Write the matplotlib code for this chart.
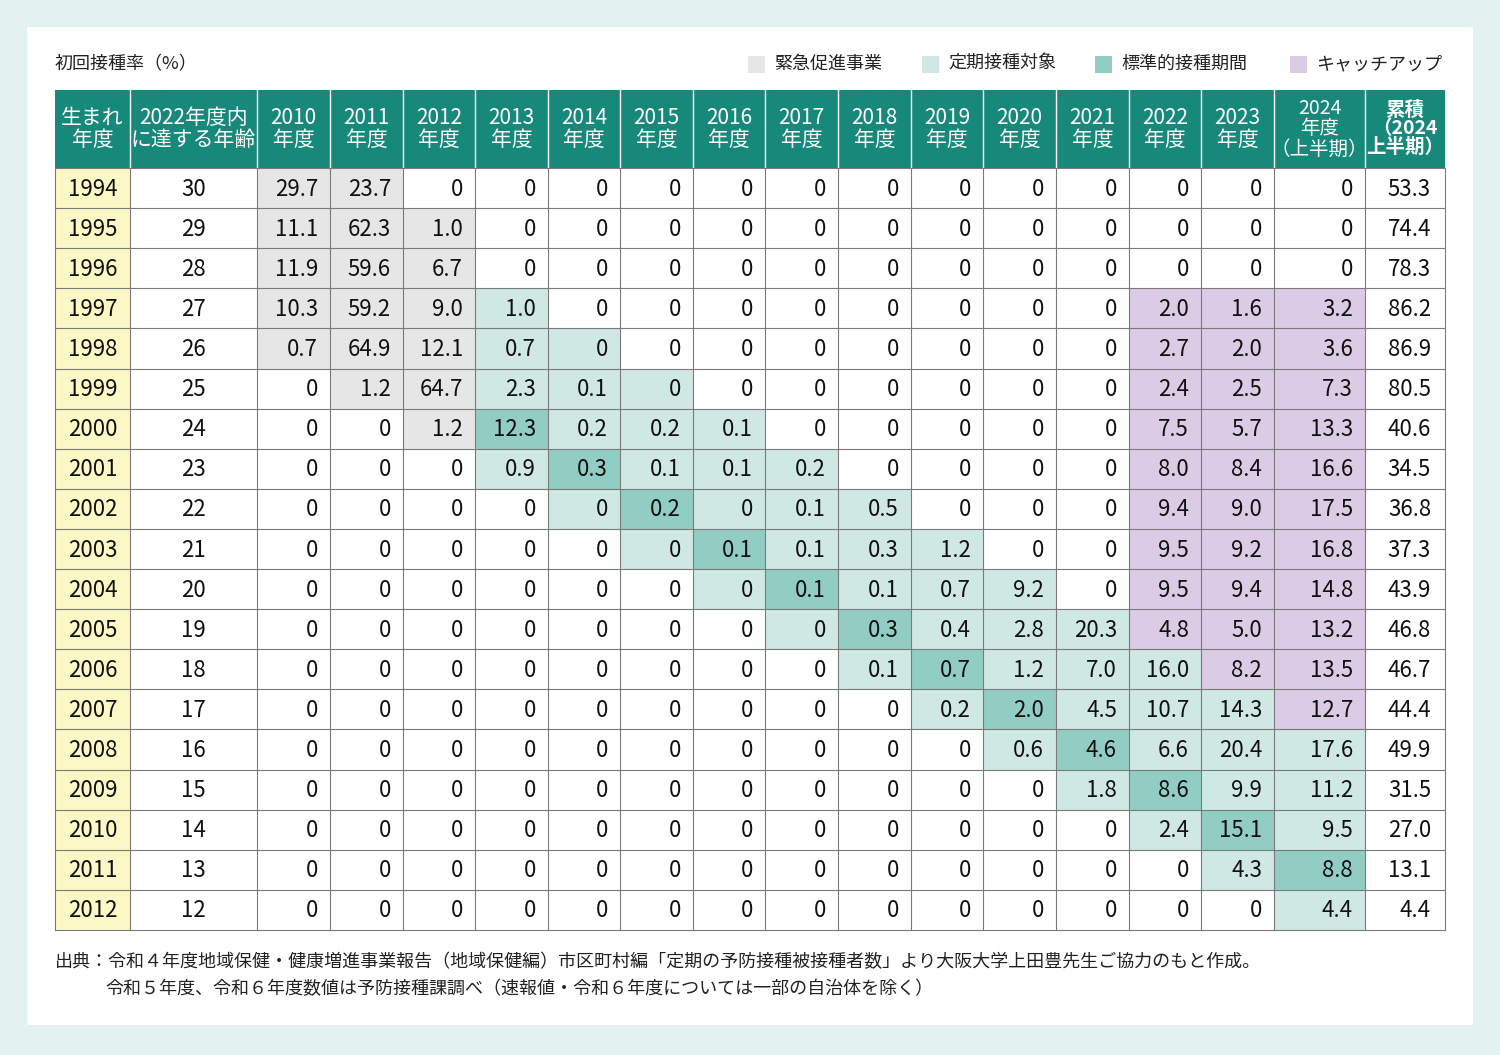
import matplotlib.pyplot as plt
from matplotlib.patches import Rectangle

plt.rcParams["font.family"] = "Noto Sans CJK JP"

birth_years = list(range(1994, 2013))
ages_2022 = [30, 29, 28, 27, 26, 25, 24, 23, 22, 21, 20, 19, 18, 17, 16, 15, 14, 13, 12]
fiscal_years = list(range(2010, 2025))
rates = [
  ["29.7", "23.7", "0", "0", "0", "0", "0", "0", "0", "0", "0", "0", "0", "0", "0"],
  ["11.1", "62.3", "1.0", "0", "0", "0", "0", "0", "0", "0", "0", "0", "0", "0", "0"],
  ["11.9", "59.6", "6.7", "0", "0", "0", "0", "0", "0", "0", "0", "0", "0", "0", "0"],
  ["10.3", "59.2", "9.0", "1.0", "0", "0", "0", "0", "0", "0", "0", "0", "2.0", "1.6", "3.2"],
  ["0.7", "64.9", "12.1", "0.7", "0", "0", "0", "0", "0", "0", "0", "0", "2.7", "2.0", "3.6"],
  ["0", "1.2", "64.7", "2.3", "0.1", "0", "0", "0", "0", "0", "0", "0", "2.4", "2.5", "7.3"],
  ["0", "0", "1.2", "12.3", "0.2", "0.2", "0.1", "0", "0", "0", "0", "0", "7.5", "5.7", "13.3"],
  ["0", "0", "0", "0.9", "0.3", "0.1", "0.1", "0.2", "0", "0", "0", "0", "8.0", "8.4", "16.6"],
  ["0", "0", "0", "0", "0", "0.2", "0", "0.1", "0.5", "0", "0", "0", "9.4", "9.0", "17.5"],
  ["0", "0", "0", "0", "0", "0", "0.1", "0.1", "0.3", "1.2", "0", "0", "9.5", "9.2", "16.8"],
  ["0", "0", "0", "0", "0", "0", "0", "0.1", "0.1", "0.7", "9.2", "0", "9.5", "9.4", "14.8"],
  ["0", "0", "0", "0", "0", "0", "0", "0", "0.3", "0.4", "2.8", "20.3", "4.8", "5.0", "13.2"],
  ["0", "0", "0", "0", "0", "0", "0", "0", "0.1", "0.7", "1.2", "7.0", "16.0", "8.2", "13.5"],
  ["0", "0", "0", "0", "0", "0", "0", "0", "0", "0.2", "2.0", "4.5", "10.7", "14.3", "12.7"],
  ["0", "0", "0", "0", "0", "0", "0", "0", "0", "0", "0.6", "4.6", "6.6", "20.4", "17.6"],
  ["0", "0", "0", "0", "0", "0", "0", "0", "0", "0", "0", "1.8", "8.6", "9.9", "11.2"],
  ["0", "0", "0", "0", "0", "0", "0", "0", "0", "0", "0", "0", "2.4", "15.1", "9.5"],
  ["0", "0", "0", "0", "0", "0", "0", "0", "0", "0", "0", "0", "0", "4.3", "8.8"],
  ["0", "0", "0", "0", "0", "0", "0", "0", "0", "0", "0", "0", "0", "0", "4.4"],
]
cumulative = ["53.3", "74.4", "78.3", "86.2", "86.9", "80.5", "40.6", "34.5", "36.8", "37.3",
              "43.9", "46.8", "46.7", "44.4", "49.9", "31.5", "27.0", "13.1", "4.4"]
header_labels = ["生まれ\n年度", "2022年度内\nに達する年齢"] + [f"{y}\n年度" for y in fiscal_years[:-1]] \
  + ["2024\n年度\n（上半期）", "累積\n（2024\n上半期）"]
legend_labels = ["緊急促進事業", "定期接種対象", "標準的接種期間", "キャッチアップ"]

HEADER_BG = "#17897a"
GRAY = "#e6e6e6"
LIGHT = "#cfe8e4"
DARK = "#92cdc3"
PURPLE = "#dccbe4"
YELLOW = "#fbf8c6"
col_edges = [55, 130, 257, 330, 403, 475, 548, 620, 693, 765, 838, 911, 983, 1056, 1129, 1201, 1274, 1365, 1445]
top, head_bottom, bottom = 90, 168, 930


def cell_color(b, y):
  age = y - b
  if 2010 <= y <= 2012 and 12 <= age <= 17:
    return GRAY
  if age == 13 and y >= 2013:
    return DARK
  if 12 <= age <= 16 and y >= 2013:
    return LIGHT
  if y >= 2022 and 1997 <= b <= 2007:
    return PURPLE
  return "white"


fig = plt.figure(figsize=(15, 10.55), dpi=100)
ax = fig.add_axes([0, 0, 1, 1])
ax.set_xlim(0, 1500)
ax.set_ylim(1055, 0)
ax.axis("off")
fig.patch.set_facecolor("#e3f1ef")
ax.add_patch(Rectangle((27, 27), 1446, 998, facecolor="white", edgecolor="none"))

ax.text(55, 64, "初回接種率（%）", fontsize=13, va="center", ha="left", color="#222")
for x, label, c in zip([756, 930, 1103, 1298], legend_labels, [GRAY, LIGHT, DARK, PURPLE]):
  ax.add_patch(Rectangle((x - 8, 56), 17, 17, facecolor=c, edgecolor="none"))
  ax.text(x + 18, 64, label, fontsize=13, va="center", ha="left", color="#222")

# header row
ax.add_patch(Rectangle((55, top), 1390, head_bottom - top, facecolor=HEADER_BG, edgecolor="none"))
for i, label in enumerate(header_labels):
  cx = (col_edges[i] + col_edges[i + 1]) / 2
  n = label.count("\n") + 1
  fs = 14 if n == 3 else 15
  ax.text(cx, (top + head_bottom) / 2, label, fontsize=fs, ha="center", va="center",
          color="white", linespacing=0.95, fontweight="bold" if i == 17 else "normal")
for x in col_edges[1:-1]:
  ax.plot([x, x], [top, head_bottom], color="white", lw=1)

rh = (bottom - head_bottom) / len(birth_years)
for r, b in enumerate(birth_years):
  y0 = head_bottom + r * rh
  cy = y0 + rh / 2 + 1
  ax.add_patch(Rectangle((col_edges[0], y0), col_edges[1] - col_edges[0], rh, facecolor=YELLOW, edgecolor="none"))
  ax.text((col_edges[0] + col_edges[1]) / 2, cy, str(b), fontsize=16, ha="center", va="center", color="#111")
  ax.text((col_edges[1] + col_edges[2]) / 2, cy, str(ages_2022[r]), fontsize=16, ha="center", va="center", color="#111")
  for c, y in enumerate(fiscal_years):
    x0, x1 = col_edges[c + 2], col_edges[c + 3]
    ax.add_patch(Rectangle((x0, y0), x1 - x0, rh, facecolor=cell_color(b, y), edgecolor="none"))
    ax.text(x1 - 12, cy, rates[r][c], fontsize=16, ha="right", va="center", color="#111")
  ax.text(col_edges[-1] - 14, cy, cumulative[r], fontsize=16, ha="right", va="center", color="#111")

for r in range(len(birth_years) + 1):
  y = head_bottom + r * rh
  ax.plot([55, 1445], [y, y], color="#7a7a7a", lw=0.8)
for x in col_edges:
  ax.plot([x, x], [head_bottom, bottom], color="#7a7a7a", lw=0.8)

ax.text(55, 962, "出典：令和４年度地域保健・健康増進事業報告（地域保健編）市区町村編「定期の予防接種被接種者数」より大阪大学上田豊先生ご協力のもと作成。",
        fontsize=13, ha="left", va="center", color="#222")
ax.text(105, 989, "令和５年度、令和６年度数値は予防接種課調べ（速報値・令和６年度については一部の自治体を除く）",
        fontsize=13, ha="left", va="center", color="#222")

fig.savefig("out.png", dpi=100)
